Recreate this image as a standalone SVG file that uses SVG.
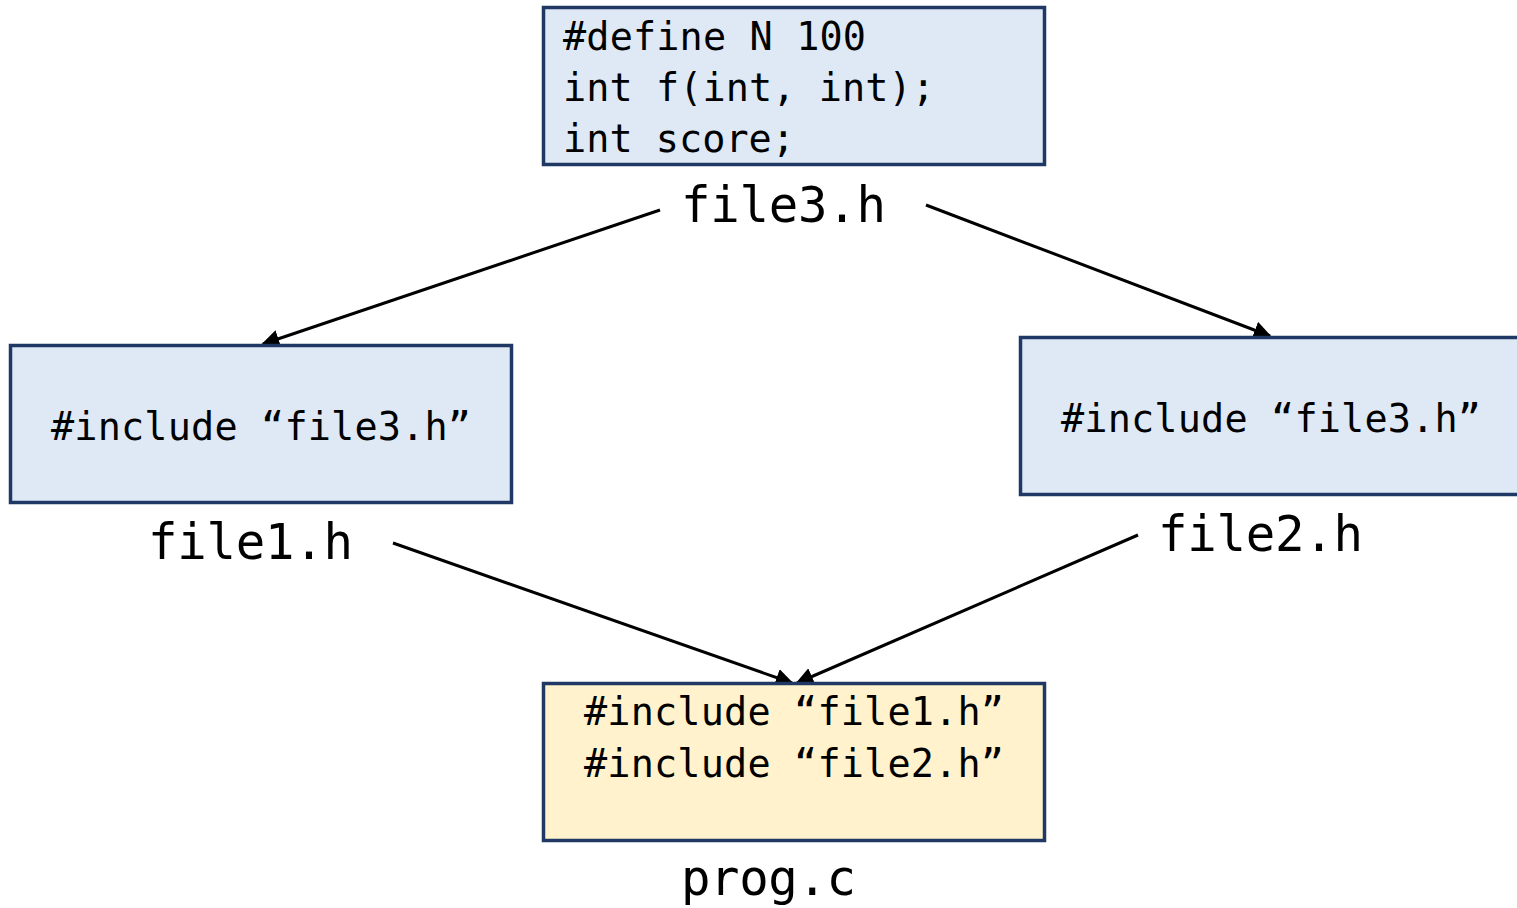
<svg xmlns="http://www.w3.org/2000/svg" width="1517" height="908" viewBox="0 0 1517 908">
<style>
.box{stroke:#1F3864;stroke-width:3.5}
.blue{fill:#DEE9F5}
.yellow{fill:#FFF2CC}
.code{font-family:"DejaVu Sans Mono","Liberation Mono",monospace;font-size:38.5px;fill:#000}
.label{font-family:"DejaVu Sans Mono","Liberation Mono",monospace;font-size:49px;fill:#000}
.conn{stroke:#000;stroke-width:3;fill:none;marker-end:url(#arr)}
</style>
<defs>
<marker id="arr" viewBox="0 0 10 10" refX="9" refY="5" markerWidth="6" markerHeight="6" markerUnits="strokeWidth" orient="auto">
<path d="M0,0 L10,5 L0,10 z" fill="#000"/>
</marker>
</defs>
<rect width="1517" height="908" fill="#fff"/>
<g id="connectors">
<line class="conn" x1="660" y1="210" x2="263" y2="344"/>
<line class="conn" x1="926" y1="205" x2="1270" y2="336"/>
<line class="conn" x1="393" y1="543" x2="792" y2="683"/>
<line class="conn" x1="1138" y1="535" x2="797" y2="683"/>
</g>
<g id="file3">
<rect class="box blue" x="543.5" y="7.5" width="501" height="157"/>
<text class="code" x="563" y="50" textLength="303">#define N 100</text>
<text class="code" x="563" y="101" textLength="372">int f(int, int);</text>
<text class="code" x="563" y="152" textLength="232">int score;</text>
<text class="label" x="681" y="222" textLength="205">file3.h</text>
</g>
<g id="file1">
<rect class="box blue" x="10.5" y="345.5" width="501" height="157"/>
<text class="code" x="51" y="440" textLength="420">#include “file3.h”</text>
<text class="label" x="148" y="559" textLength="205">file1.h</text>
</g>
<g id="file2">
<rect class="box blue" x="1020.5" y="337.5" width="510" height="157"/>
<text class="code" x="1061" y="432" textLength="420">#include “file3.h”</text>
<text class="label" x="1158" y="551" textLength="205">file2.h</text>
</g>
<g id="prog">
<rect class="box yellow" x="543.5" y="683.5" width="501" height="157"/>
<text class="code" x="584" y="725" textLength="420">#include “file1.h”</text>
<text class="code" x="584" y="777" textLength="420">#include “file2.h”</text>
<text class="label" x="681" y="895" textLength="175">prog.c</text>
</g>
</svg>
